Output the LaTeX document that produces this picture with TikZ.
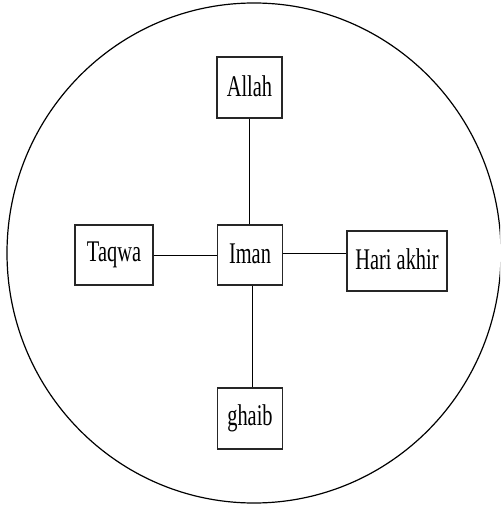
\documentclass[tikz,border=0pt]{standalone}
\usepackage{fontspec}
\setmainfont[FakeStretch=0.68]{Liberation Serif}
\newcommand{\uplbl}[1]{\raisebox{3pt}{#1}}
\begin{document}
\begin{tikzpicture}[x=1pt,y=-1pt,
  box/.style={draw=black!85, line width=1.2pt, inner sep=0pt, font=\fontsize{30}{32}\selectfont},
  link/.style={draw=black, line width=1pt}]
\useasboundingbox (0,0) rectangle (500,505);
\begin{scope}
\clip (0,0) rectangle (500,505);
\draw[line width=1.2pt] (254,253) ellipse [x radius=247, y radius=250];
\end{scope}
\node[box, minimum width=65pt, minimum height=61pt] (allah) at (249.5,87.5) {\uplbl{Allah}};
\node[box, minimum width=78pt, minimum height=60pt] (taqwa) at (114,255) {\uplbl{Taqwa}};
\node[box, minimum width=65pt, minimum height=60pt] (iman) at (250,255) {\uplbl{Iman}};
\node[box, minimum width=100pt, minimum height=60pt] (hari) at (397,261) {\uplbl{Hari akhir}};
\node[box, minimum width=65pt, minimum height=61pt] (ghaib) at (250,418.5) {\uplbl{ghaib}};
\draw[link] (allah.south -| 249,0) -- (iman.north -| 249,0);
\draw[link] (taqwa.east) -- (iman.west);
\draw[link] (iman.east |- 0,253) -- (hari.west |- 0,253);
\draw[link] (iman.south -| 252.5,0) -- (ghaib.north -| 252.5,0);
\end{tikzpicture}
\end{document}
